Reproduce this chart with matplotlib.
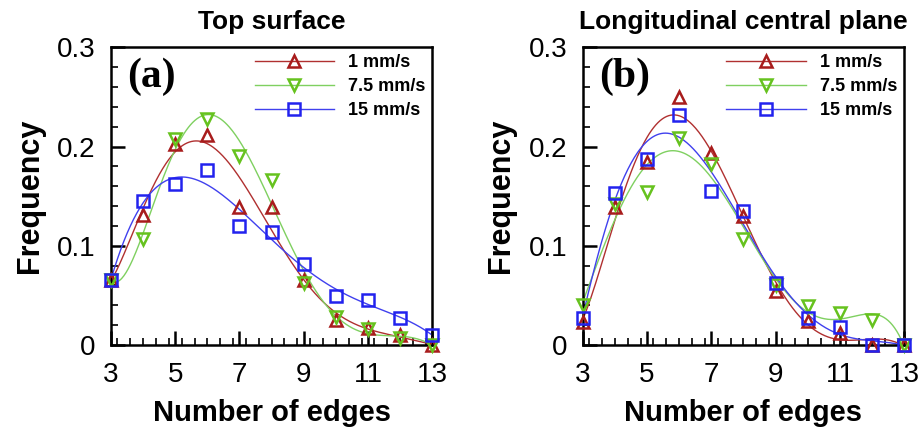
import numpy as np
from matplotlib import pyplot as plt
from matplotlib.ticker import MultipleLocator, FixedLocator

# number of edges
edges = [3, 4, 5, 6, 7, 8, 9, 10, 11, 12, 13]

# (a) top surface
top_1 = [0.066, 0.131, 0.203, 0.212, 0.139, 0.139, 0.066, 0.025, 0.017, 0.010, 0.0]
top_75 = [0.066, 0.107, 0.208, 0.228, 0.191, 0.166, 0.062, 0.028, 0.016, 0.007, 0.0]
top_15 = [0.066, 0.145, 0.162, 0.176, 0.120, 0.114, 0.082, 0.049, 0.045, 0.027, 0.010]

# (b) longitudinal central plane
lcp_1 = [0.023, 0.139, 0.184, 0.250, 0.194, 0.130, 0.054, 0.024, 0.012, 0.0, 0.0]
lcp_75 = [0.040, 0.142, 0.154, 0.209, 0.182, 0.107, 0.060, 0.039, 0.032, 0.025, 0.0]
lcp_15 = [0.027, 0.153, 0.188, 0.232, 0.155, 0.135, 0.063, 0.027, 0.018, 0.0, 0.0]

labels = ['1 mm/s', '7.5 mm/s', '15 mm/s']
colors = ['#a81c1c', '#66c21e', '#2222ee']
line_colors = ['#b03030', '#7fd060', '#4040ee']
markers = ['^', 'v', 's']

plt.rcParams['font.family'] = ['Liberation Sans', 'DejaVu Sans']


def draw_panel(ax, series, title, tag):
    x = np.array(edges, dtype=float)
    xs = np.linspace(3, 13, 300)
    for y, lab, c, lc, m in zip(series, labels, colors, line_colors, markers):
        y = np.array(y)
        coef = np.polyfit(x, y, 6)  # smooth curve fit like the original
        ms = 9 if m != 's' else 8
        ax.plot(xs, np.polyval(coef, xs), '-', color=lc, lw=1.0, zorder=2)
        ax.plot(x, y, linestyle='none', marker=m, ms=ms,
                mfc='none', mec=c, mew=1.8, zorder=3, clip_on=False)
        # legend proxy
        ax.plot([], [], '-', color=lc, lw=1.0, marker=m,
                ms=ms, mfc='none', mec=c, mew=1.8, label=lab)

    ax.set_xlim(3, 13)
    ax.set_ylim(0, 0.3)
    ax.xaxis.set_major_locator(FixedLocator([3, 5, 7, 9, 11, 13]))
    ax.xaxis.set_minor_locator(MultipleLocator(0.4))
    ax.yaxis.set_major_locator(FixedLocator([0, 0.1, 0.2, 0.3]))
    ax.yaxis.set_minor_locator(MultipleLocator(0.02))
    ax.set_yticklabels(['0', '0.1', '0.2', '0.3'])
    ax.tick_params(which='both', direction='in', width=1.8, labelsize=20)
    ax.tick_params(which='major', length=10)
    ax.tick_params(which='minor', length=5, width=1.2)
    ax.tick_params(axis='x', pad=12)
    ax.tick_params(axis='y', pad=11)
    for s in ax.spines.values():
        s.set_linewidth(1.8)

    ax.set_xlabel('Number of edges', fontsize=21, fontweight='bold', labelpad=8)
    ax.set_ylabel('Frequency', fontsize=22, fontweight='bold', labelpad=9)
    ax.set_title(title, fontsize=19, fontweight='bold', pad=13)
    ax.text(0.05, 0.965, tag, transform=ax.transAxes, ha='left', va='top',
            fontsize=30, fontweight='bold', family='Liberation Serif')
    ax.legend(loc='upper left', bbox_to_anchor=(0.43, 0.995), frameon=False,
              handlelength=4.4, handletextpad=0.8, labelspacing=0.38,
              borderpad=0.3, borderaxespad=0.0,
              prop={'size': 13, 'weight': 'bold'})


fig = plt.figure(figsize=(9.19, 4.30), dpi=100)
ax1 = fig.add_axes([0.1208, 0.1977, 0.3495, 0.692])
ax2 = fig.add_axes([0.634, 0.1977, 0.350, 0.692])

draw_panel(ax1, [top_1, top_75, top_15], 'Top surface', '(a)')
draw_panel(ax2, [lcp_1, lcp_75, lcp_15], 'Longitudinal central plane', '(b)')

fig.savefig('out.png', dpi=100)
